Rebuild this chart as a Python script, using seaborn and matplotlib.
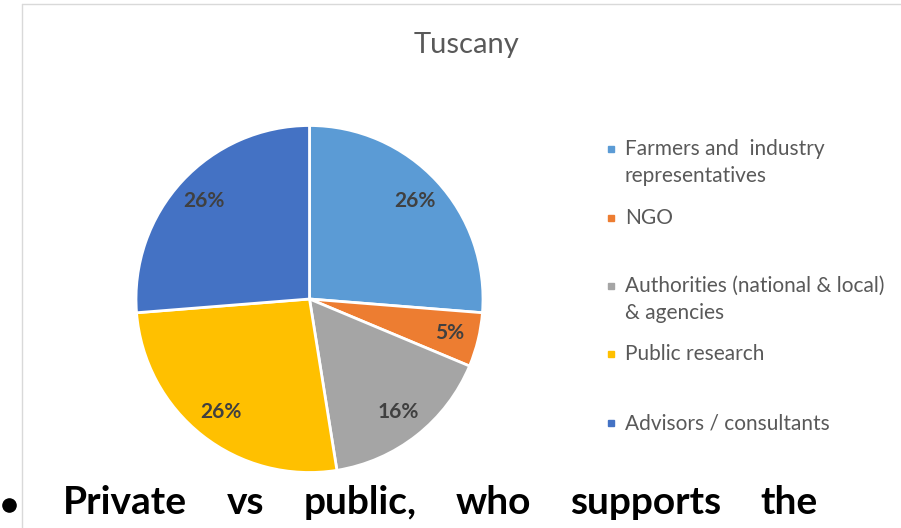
import matplotlib
matplotlib.use("Agg")
import matplotlib.pyplot as plt
import seaborn as sns

# Data
title = "Tuscany"
categories = [
    "Farmers and  industry\nrepresentatives",
    "NGO",
    "Authorities (national & local)\n& agencies",
    "Public research",
    "Advisors / consultants",
]
shares = [26, 5, 16, 26, 26]
palette = ["#5B9BD5", "#ED7D31", "#A5A5A5", "#FFC000", "#4472C4"]
caption_words = ["Private", "vs", "public,", "who", "supports", "the"]

sns.set_theme(style="white")
plt.rcParams["font.family"] = ["Lato", "DejaVu Sans"]

W, H = 901, 528
fig = plt.figure(figsize=(W / 100, H / 100), dpi=100)
fig.patch.set_facecolor("white")

# Pie axes, placed in pixel terms
cx, cy, r = 309.5, 299.0, 173.5
ax = fig.add_axes([(cx - r) / W, (H - cy - r) / H, 2 * r / W, 2 * r / H])
colors = sns.color_palette(palette)
wedges, _, autotexts = ax.pie(
    shares,
    colors=colors,
    startangle=90,
    counterclock=False,
    autopct=lambda p: f"{p:.0f}%",
    pctdistance=0.83,
    wedgeprops=dict(edgecolor="white", linewidth=2),
    textprops=dict(color="#404040", fontsize=15, fontweight="bold"),
)
for w in wedges:
    w.set_clip_on(False)
ax.set_xlim(-1, 1)
ax.set_ylim(-1, 1)
ax.set_aspect("equal")
ax.axis("off")

# Overlay axes in pixel coordinates for frame, title, legend and caption
ov = fig.add_axes([0, 0, 1, 1], zorder=-1)
ov.set_xlim(0, W)
ov.set_ylim(H, 0)
ov.axis("off")
ov2 = fig.add_axes([0, 0, 1, 1], zorder=5)
ov2.set_xlim(0, W)
ov2.set_ylim(H, 0)
ov2.axis("off")

# Chart frame
ov.plot([22, W + 5], [4, 4], color="#D9D9D9", lw=1)
ov.plot([22, 22], [4, H + 5], color="#D9D9D9", lw=1)

# Title
ov2.text(467, 45, title, ha="center", va="center", fontsize=21, color="#595959")

# Legend
legend_y = [149, 218, 286, 354, 423]
for cat, col, y in zip(categories, colors, legend_y):
    ov2.plot([611], [y], marker="s", markersize=4, color=col, linestyle="none")
    for k, line in enumerate(cat.split("\n")):
        ov2.text(625, y + 6 + 27 * k, line, ha="left", va="baseline",
                 fontsize=15, color="#595959")

# Caption: bullet dot plus justified bold words
ov2.plot([9], [505], marker="o", markersize=9.5, color="black",
         linestyle="none", clip_on=False)
fig.canvas.draw()
renderer = fig.canvas.get_renderer()
x_left, x_right, base = 63, 818, 514
texts = [ov2.text(0, base, w, ha="left", va="baseline", fontsize=28,
                  fontweight="bold", color="black") for w in caption_words]
widths = [t.get_window_extent(renderer).width for t in texts]
gap = (x_right - x_left - sum(widths)) / (len(texts) - 1)
x = x_left
for t, wdt in zip(texts, widths):
    t.set_x(x)
    x += wdt + gap

fig.savefig("out.png", dpi=100, facecolor="white")
